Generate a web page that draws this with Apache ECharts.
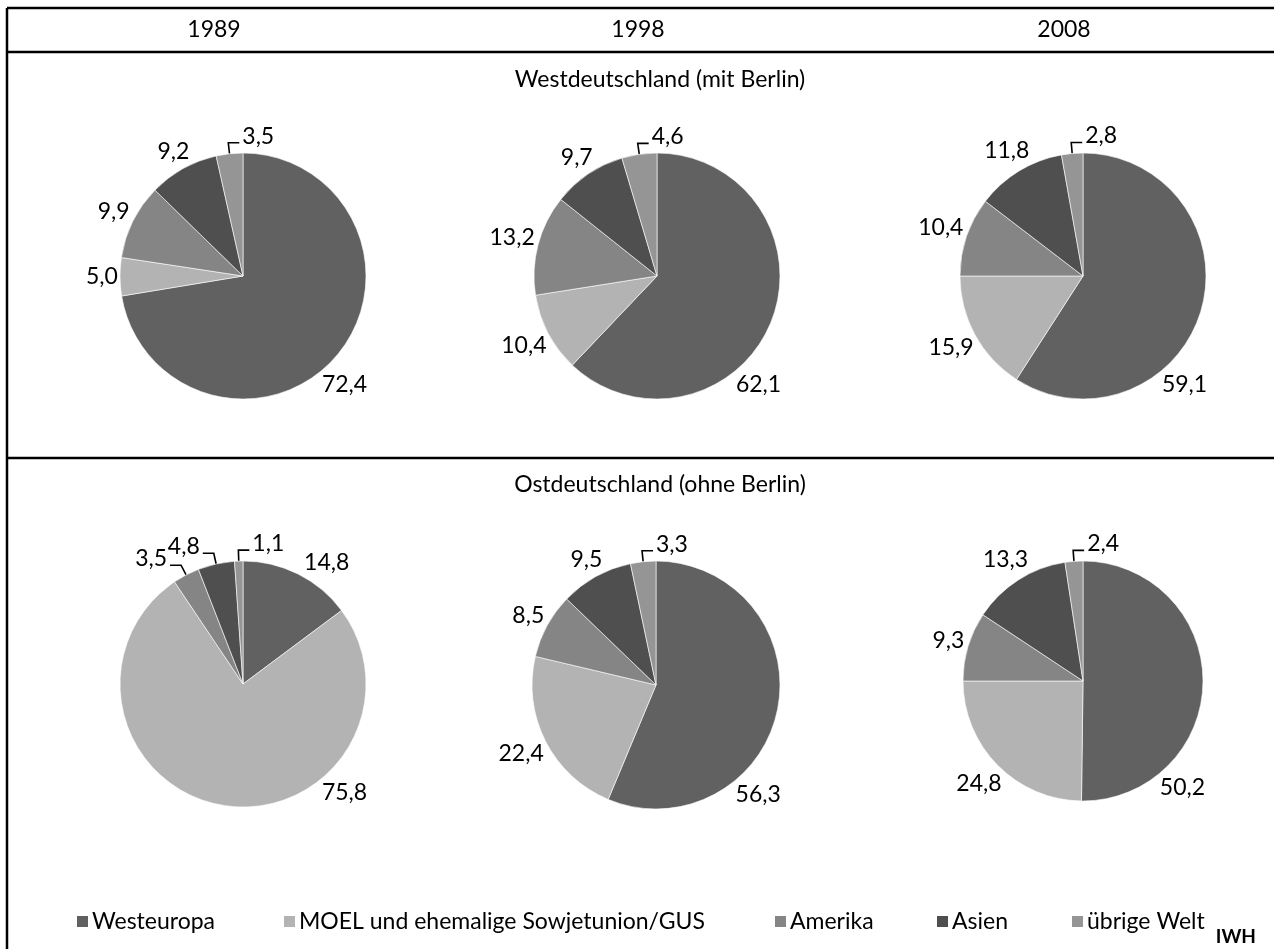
<!DOCTYPE html>
<html>
<head>
<meta charset="utf-8">
<script src="https://cdn.jsdelivr.net/npm/echarts@6/dist/echarts.min.js"></script>
<style>
  html, body { margin: 0; padding: 0; background: #fff; }
  #chart { width: 1274px; height: 949px; }
</style>
</head>
<body>
<div id="chart"></div>
<script>
// Regionen (Legende) und Farben
const regionen = ['Westeuropa', 'MOEL und ehemalige Sowjetunion/GUS', 'Amerika', 'Asien', 'übrige Welt'];
const farben = ['#616161', '#b3b3b3', '#858585', '#4f4f4f', '#959595'];

const jahre = ['1989', '1998', '2008'];
const titelWest = 'Westdeutschland (mit Berlin)';
const titelOst = 'Ostdeutschland (ohne Berlin)';

// Anteile in %
const west1989 = [72.4, 5.0, 9.9, 9.2, 3.5];
const west1998 = [62.1, 10.4, 13.2, 9.7, 4.6];
const west2008 = [59.1, 15.9, 10.4, 11.8, 2.8];
const ost1989 = [14.8, 75.8, 3.5, 4.8, 1.1];
const ost1998 = [56.3, 22.4, 8.5, 9.5, 3.3];
const ost2008 = [50.2, 24.8, 9.3, 13.3, 2.4];

const schrift = 'Lato, "Open Sans", sans-serif';
const groesse = 23;
const meinGrafico = echarts.init(document.getElementById('chart'));

const formatWert = v => v.toFixed(1).replace('.', ',');
const grad = Math.PI / 180;

// Beschriftung wie in Excel: knapp ausserhalb des Kreises, kleine Stücke mit Führungslinie
const baueLayout = (werte, mitte, radius) => {
  const summe = werte.reduce((a, b) => a + b, 0);
  const mittelWinkel = werte.map((v, i) => {
    let davor = 0;
    for (let k = 0; k < i; k++) davor += werte[k];
    return (davor + v / 2) / summe * 360;
  });
  const fuehrung = k => {
    const th = mittelWinkel[k] * grad;
    const ux = Math.sin(th), uy = -Math.cos(th);
    const qx = mitte[0] + (radius + 11) * ux, qy = mitte[1] + (radius + 11) * uy;
    const rechts = ux > -0.18;
    return {
      px: mitte[0] + radius * ux, py: mitte[1] + radius * uy,
      qx, qy, rechts, rx: qx + (rechts ? 11 : -11)
    };
  };
  return params => {
    const i = params.dataIndex;
    const w = params.labelRect.width;
    const h = params.labelRect.height;
    if (werte[i] < 5) {
      const f = fuehrung(i);
      return {
        x: f.rx + (f.rechts ? 3 : -3),
        y: f.qy + 5,
        align: f.rechts ? 'left' : 'right',
        verticalAlign: 'bottom',
        labelLinePoints: [[f.px, f.py], [f.qx, f.qy], [f.rx, f.qy]]
      };
    }
    // Boxen der Führungslinien-Beschriftungen abschätzen, damit nichts überlappt
    const zeichen = w / params.text.length;
    const boxen = [];
    werte.forEach((v, k) => {
      if (v >= 5) return;
      const f = fuehrung(k);
      const bw = zeichen * formatWert(v).length;
      const links = f.rechts ? f.rx + 3 : f.rx - 3 - bw;
      boxen.push({ x1: links - 16, x2: links + bw + 16, y1: f.qy + 5 - h - 4, y2: f.qy + 9, winkel: mittelWinkel[k] });
    });
    let winkel = werte[i] >= 50 ? 137 : mittelWinkel[i];
    let cx = 0, cy = 0;
    for (let schritt = 0; schritt < 60; schritt++) {
      const th = winkel * grad;
      const ux = Math.sin(th), uy = -Math.cos(th);
      const d = radius + 2 + (w / 2) * Math.abs(ux) + (h / 2) * Math.abs(uy);
      cx = mitte[0] + d * ux;
      cy = mitte[1] + d * uy;
      const treffer = boxen.find(b => cx + w / 2 > b.x1 && cx - w / 2 < b.x2 && cy + h / 2 > b.y1 && cy - h / 2 < b.y2);
      if (!treffer) break;
      let diff = winkel - treffer.winkel;
      diff = ((diff + 540) % 360) - 180;
      winkel += diff >= 0 ? 1 : -1;
    }
    return { x: cx, y: cy, align: 'center', verticalAlign: 'middle' };
  };
};

const baueTorte = (werte, mitte, radius) => ({
  type: 'pie',
  center: mitte,
  radius: radius,
  startAngle: 90,
  clockwise: true,
  silent: true,
  avoidLabelOverlap: false,
  itemStyle: { borderColor: '#ffffff', borderWidth: 0.6 },
  label: {
    show: true,
    position: 'outside',
    color: '#000',
    fontFamily: schrift,
    fontSize: groesse,
    formatter: p => formatWert(p.value)
  },
  labelLine: {
    show: false,
    length: 10,
    length2: 4,
    lineStyle: { color: '#000', width: 1.6 }
  },
  labelLayout: baueLayout(werte, mitte, radius),
  data: werte.map((v, i) => ({
    name: regionen[i],
    value: v,
    itemStyle: { color: farben[i] },
    labelLine: { show: v < 5 }
  }))
});

// Legende: eine Komponente je Eintrag, damit die Abstände wie im Original sind
const legendePos = [75, 282, 773, 935, 1070];
const legenden = regionen.map((r, i) => ({
  data: [r],
  left: legendePos[i],
  top: 910,
  orient: 'horizontal',
  icon: 'rect',
  itemWidth: 13,
  itemHeight: 13,
  itemGap: 4,
  padding: 0,
  selectedMode: false,
  textStyle: { color: '#000', fontFamily: schrift, fontSize: groesse, padding: [0, 0, 0, -2] }
}));

const linie = (x1, y1, x2, y2) => ({
  type: 'line',
  shape: { x1, y1, x2, y2 },
  style: { stroke: '#000', lineWidth: 2.5 },
  silent: true
});

const text = (t, x, y, extra) => ({
  type: 'text',
  x, y,
  style: Object.assign({
    text: t,
    fill: '#000',
    font: groesse + 'px ' + schrift,
    textAlign: 'center',
    textVerticalAlign: 'middle'
  }, extra || {}),
  silent: true
});

const opciones = {
  animation: false,
  backgroundColor: '#fff',
  legend: legenden,
  graphic: [
    linie(7, 8, 1274, 8),
    linie(7, 52, 1274, 52),
    linie(7, 458, 1274, 458),
    linie(7, 8, 7, 949),
    text(jahre[0], 214, 30),
    text(jahre[1], 638, 30),
    text(jahre[2], 1064, 30),
    text(titelWest, 660, 80),
    text(titelOst, 660, 485),
    text('IWH', 1256, 937, { font: 'bold 19px ' + schrift, textAlign: 'right' })
  ],
  series: [
    baueTorte(west1989, [243, 276], 123),
    baueTorte(west1998, [657, 276], 123),
    baueTorte(west2008, [1083, 276], 123),
    baueTorte(ost1989, [243, 684], 123),
    baueTorte(ost1998, [656, 685], 124),
    baueTorte(ost2008, [1083, 681], 120)
  ]
};

meinGrafico.setOption(opciones);
</script>
</body>
</html>
